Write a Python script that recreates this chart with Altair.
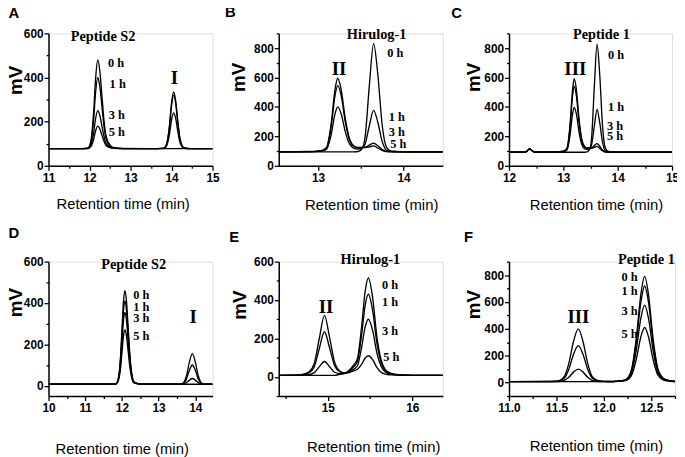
import altair as alt
import pandas as pd

HOURS = ["0 h", "1 h", "3 h", "5 h"]

# ---------------- Panel A ----------------
A_x = [11.0, 11.8, 11.95, 12.0, 12.05, 12.1, 12.15, 12.2, 12.25, 12.3, 12.35, 12.4, 12.5, 12.6, 12.8,
       13.5, 13.8, 13.85, 13.9, 13.95, 14.0, 14.05, 14.1, 14.15, 14.2, 14.25, 14.3, 14.4, 14.6, 15.0]
A_0h = [78, 78, 80, 90, 134, 243, 400, 480, 432, 323, 211, 138, 94, 82, 79, 78, 78, 78, 78, 78, 78, 78, 78, 78, 78, 78, 78, 78, 78, 78]
A_1h = [78, 78, 79, 88, 123, 210, 336, 400, 361, 274, 184, 126, 91, 81, 78, 78, 79, 83, 101, 144, 208, 240, 216, 159, 110, 88, 80, 78, 78, 78]
A_3h = [78, 78, 79, 83, 102, 149, 216, 250, 229, 183, 135, 104, 85, 80, 78, 78, 79, 85, 112, 177, 272, 320, 284, 199, 126, 93, 82, 78, 78, 78]
A_5h = [78, 78, 78, 81, 92, 120, 160, 180, 168, 140, 112, 93, 82, 79, 78, 78, 79, 86, 114, 183, 284, 335, 296, 207, 129, 93, 82, 79, 78, 78]

# ---------------- Panel B ----------------
B_x = [12.54, 12.9, 13.0, 13.05, 13.1, 13.15, 13.2, 13.23, 13.27, 13.32, 13.37, 13.42, 13.47, 13.52, 13.55,
       13.6, 13.65, 13.7, 13.75, 13.8, 13.85, 13.9, 14.0, 14.46]
B_0h = [95, 95, 95, 95, 95, 95, 95, 95, 95, 95, 95, 95, 97, 120, 194, 543, 830, 617, 279, 127, 102, 99, 95, 95]
B_1h = [95, 96, 98, 101, 113, 202, 357, 400, 354, 229, 147, 119, 114, 122, 147, 272, 377, 294, 166, 107, 98, 96, 95, 95]
B_3h = [95, 96, 100, 104, 122, 253, 482, 545, 478, 293, 172, 131, 122, 124, 125, 140, 154, 136, 110, 98, 96, 95, 95, 95]
B_5h = [95, 97, 100, 105, 125, 270, 525, 595, 520, 315, 180, 135, 125, 126, 124, 128, 135, 121, 105, 96, 95, 95, 95, 95]

# ---------------- Panel C ----------------
C_x = [12.0, 12.3, 12.34, 12.38, 12.42, 12.46, 12.87, 12.97, 13.02, 13.07, 13.12, 13.17, 13.2, 13.24, 13.29,
       13.34, 13.39, 13.44, 13.49, 13.52, 13.57, 13.62, 13.67, 13.72, 13.77, 13.82, 13.87, 13.97, 15.0]
C_0h = [92, 93, 103, 115, 104, 94, 92, 92, 92, 92, 92, 92, 92, 92, 92, 92, 92, 94, 117, 191, 540, 827, 614, 276, 124, 99, 96, 92, 92]
C_1h = [92, 93, 103, 115, 104, 94, 93, 95, 98, 110, 199, 354, 397, 351, 226, 144, 116, 111, 119, 144, 269, 383, 291, 163, 104, 95, 93, 92, 92]
C_3h = [92, 93, 103, 115, 104, 94, 93, 97, 101, 119, 250, 479, 542, 475, 290, 169, 128, 119, 121, 122, 137, 151, 133, 107, 95, 93, 92, 92, 92]
C_5h = [92, 93, 103, 115, 104, 94, 94, 97, 102, 122, 267, 522, 592, 517, 312, 177, 132, 122, 123, 121, 125, 132, 118, 102, 93, 92, 92, 92, 92]

# ---------------- Panel D ----------------
D_x = [10.0, 11.7, 11.8, 11.85, 11.9, 11.95, 12.0, 12.04, 12.08, 12.12, 12.17, 12.22, 12.27, 12.32, 12.4, 12.5, 12.7,
       13.5, 13.6, 13.68, 13.76, 13.84, 13.92, 14.0, 14.08, 14.16, 14.24, 14.35, 14.47]
D_0h = [7, 7, 7, 11, 32, 107, 265, 401, 460, 419, 283, 143, 57, 21, 12, 8, 7, 7, 7, 7, 7, 7, 7, 7, 7, 7, 7, 7, 7]
D_1h = [7, 7, 7, 11, 30, 96, 237, 358, 410, 374, 253, 128, 51, 19, 11, 8, 7, 7, 7, 9, 15, 27, 35, 27, 15, 9, 7, 7, 7]
D_3h = [7, 7, 7, 10, 27, 84, 205, 310, 355, 324, 219, 111, 45, 17, 11, 8, 7, 7, 8, 12, 33, 75, 100, 75, 33, 12, 8, 7, 7]
D_5h = [7, 7, 7, 9, 22, 65, 157, 236, 270, 246, 167, 86, 36, 15, 10, 8, 7, 7, 8, 15, 48, 115, 155, 115, 48, 15, 8, 7, 7]

# ---------------- Panel E ----------------
E_x = [14.42, 14.6, 14.7, 14.78, 14.84, 14.9, 14.96, 15.02, 15.08, 15.14, 15.2, 15.25, 15.3, 15.35, 15.4, 15.44,
       15.48, 15.53, 15.58, 15.63, 15.68, 15.75, 15.85, 16.0, 16.36]
E_0h = [8, 8, 8, 8, 8, 8, 8, 8, 8, 13, 18, 33, 59, 94, 262, 439, 515, 414, 211, 89, 38, 18, 11, 8, 8]
E_1h = [8, 8, 9, 12, 22, 53, 80, 54, 24, 17, 18, 30, 50, 80, 219, 367, 430, 346, 177, 76, 33, 16, 10, 8, 8]
E_3h = [8, 9, 11, 22, 53, 149, 235, 153, 58, 27, 20, 25, 38, 58, 154, 256, 300, 242, 125, 55, 26, 14, 10, 8, 8]
E_5h = [8, 9, 13, 27, 70, 201, 320, 208, 77, 31, 20, 22, 30, 40, 65, 97, 110, 90, 49, 24, 14, 10, 8, 8, 8]

# ---------------- Panel F ----------------
F_x = [11.0, 11.45, 11.52, 11.58, 11.63, 11.68, 11.73, 11.78, 11.83, 11.88, 11.95, 12.05, 12.15, 12.23, 12.29,
       12.34, 12.39, 12.43, 12.47, 12.52, 12.57, 12.63, 12.7, 12.75]
F_0h = [7, 7, 7, 7, 7, 7, 7, 7, 7, 7, 7, 7, 11, 23, 93, 320, 657, 790, 657, 320, 101, 30, 13, 9]
F_1h = [7, 7, 8, 15, 39, 78, 100, 78, 39, 15, 8, 7, 11, 21, 85, 292, 598, 719, 598, 292, 92, 28, 13, 8]
F_3h = [7, 8, 11, 31, 98, 211, 275, 211, 98, 31, 11, 8, 10, 18, 70, 235, 480, 577, 480, 235, 75, 24, 12, 8]
F_5h = [7, 9, 13, 42, 141, 306, 400, 306, 141, 42, 13, 8, 9, 15, 51, 168, 341, 410, 341, 168, 55, 19, 10, 8]

# Tick values
A_xt = [11, 11.5, 12, 12.5, 13, 13.5, 14, 14.5, 15]
B_xt = [13, 13.5, 14]
C_xt = [12, 12.5, 13, 13.5, 14, 14.5, 15]
D_xt = [10, 10.5, 11, 11.5, 12, 12.5, 13, 13.5, 14]
E_xt = [14.5, 15, 15.5, 16]
F_xt = [11, 11.25, 11.5, 11.75, 12, 12.25, 12.5, 12.75]

# Annotation texts (label, x, y) in data units
A_name = [("Peptide S2", 12.33, 582)]
A_hours = [("0 h", 12.45, 466), ("1 h", 12.49, 372), ("3 h", 12.47, 228), ("5 h", 12.47, 154)]
A_roman = [("I", 14.07, 396)]
B_name = [("Hirulog-1", 13.685, 887)]
B_hours = [("0 h", 13.81, 766), ("1 h", 13.827, 330), ("3 h", 13.827, 228), ("5 h", 13.846, 148)]
B_roman = [("II", 13.245, 658)]
C_name = [("Peptide 1", 13.70, 890)]
C_hours = [("0 h", 13.82, 756), ("1 h", 13.82, 397), ("3 h", 13.805, 272), ("5 h", 13.805, 205)]
C_roman = [("III", 13.22, 660)]
D_name = [("Peptide S2", 12.32, 583)]
D_hours = [("0 h", 12.31, 440), ("1 h", 12.31, 380), ("3 h", 12.31, 325), ("5 h", 12.31, 241)]
D_roman = [("I", 13.94, 332)]
E_name = [("Hirulog-1", 15.503, 608)]
E_hours = [("0 h", 15.64, 479), ("1 h", 15.64, 389), ("3 h", 15.64, 241), ("5 h", 15.655, 102)]
E_roman = [("II", 14.978, 364)]
F_name = [("Peptide 1", 12.448, 911)]
F_hours = [("0 h", 12.357, 782), ("1 h", 12.357, 679), ("3 h", 12.357, 532), ("5 h", 12.357, 360)]
F_roman = [("III", 11.732, 488)]

SANS = "Liberation Sans"
SERIF = "Liberation Serif"


def long_df(xs, ys_list):
    rows = []
    for name, ys in zip(HOURS, ys_list):
        for x, y in zip(xs, ys):
            rows.append({"x": x, "y": y, "s": name})
    return pd.DataFrame(rows)


def ann_df(items):
    return pd.DataFrame([{"t": t, "x": x, "y": y} for t, x, y in items])


def panel(letter, letter_pos, xs, ys_list, xdom, ydom, w, h, xvals, xmod, xfmt, yvals,
          ytx, yty, xtx, xty, names, hours, hours_align, roman):
    xaxis = alt.Axis(
        values=xvals, tickCount=40, tickMinStep=0.01, format=xfmt, title="Retention time (min)",
        labelExpr=f"abs(datum.value / {xmod} - round(datum.value / {xmod})) < 0.001 ? datum.label : ''",
        tickSize={"condition": {"test": f"abs(datum.value / {xmod} - round(datum.value / {xmod})) > 0.001",
                                "value": 2.5}, "value": 4.5},
        labelFont=SANS, labelFontWeight="bold", labelFontSize=12, labelColor="black", labelPadding=2,
        domainColor="black", domainWidth=1.5, tickColor="black", tickWidth=1.3, grid=False,
        titleFont=SANS, titleFontWeight="normal", titleFontSize=15, titleColor="black",
        titleX=xtx, titleY=xty, titleAlign="center", titleBaseline="middle",
        labelFlush=False, labelOverlap=False, labelBound=False,
    )
    yaxis = alt.Axis(
        values=yvals, tickCount=40, tickMinStep=1, format=".0f", title="mV",
        labelExpr="datum.value % 200 === 0 ? datum.label : ''",
        tickSize={"condition": {"test": "datum.value % 200 !== 0", "value": 2.5}, "value": 4.5},
        labelFont=SANS, labelFontWeight="bold", labelFontSize=12, labelColor="black", labelPadding=1,
        domainColor="black", domainWidth=1.5, tickColor="black", tickWidth=1.3, grid=False,
        titleFont=SANS, titleFontWeight="bold", titleFontSize=19, titleColor="black",
        titleAngle=270, titleX=ytx, titleY=yty, titleAlign="center", titleBaseline="alphabetic",
        labelFlush=False, labelOverlap=False,
    )
    X = alt.X("x:Q", scale=alt.Scale(domain=xdom, nice=False, zero=False), axis=xaxis)
    Y = alt.Y("y:Q", scale=alt.Scale(domain=ydom, nice=False, zero=False), axis=yaxis)

    lines = alt.Chart(long_df(xs, ys_list)).mark_line(
        color="black", strokeWidth=1.35, interpolate="monotone", clip=True
    ).encode(x=X, y=Y, detail="s:N")

    t_name = alt.Chart(ann_df(names)).mark_text(
        font=SERIF, fontWeight="bold", fontSize=14.5, color="black", align="center", baseline="middle"
    ).encode(x=X, y=Y, text="t:N")
    t_hours = alt.Chart(ann_df(hours)).mark_text(
        font=SERIF, fontWeight="bold", fontSize=12.5, color="black", align=hours_align, baseline="middle"
    ).encode(x=X, y=Y, text="t:N")
    t_roman = alt.Chart(ann_df(roman)).mark_text(
        font=SERIF, fontWeight="bold", fontSize=19, color="black", align="center", baseline="middle"
    ).encode(x=X, y=Y, text="t:N")
    t_letter = alt.Chart(pd.DataFrame({"t": [letter]})).mark_text(
        font=SANS, fontWeight="bold", fontSize=15, color="black", align="center", baseline="middle"
    ).encode(x=alt.value(letter_pos[0]), y=alt.value(letter_pos[1]), text="t:N")

    return alt.layer(lines, t_name, t_hours, t_roman, t_letter).properties(width=w, height=h)


H1 = 134
H2 = 136
y600 = [0, 100, 200, 300, 400, 500, 600]
y900 = [0, 100, 200, 300, 400, 500, 600, 700, 800, 900]

pA = panel("A", (-35, -21), A_x, [A_0h, A_1h, A_3h, A_5h], [11, 15], [0, 600], 166, H1,
           A_xt, 1, ".0f", y600,
           -27, 47, 75, 38, A_name, A_hours, "left", A_roman)
pB = panel("B", (-49, -22), B_x, [B_0h, B_1h, B_3h, B_5h], [12.54, 14.46], [0, 900], 166, H1,
           B_xt, 1, ".0f", y900,
           -35, 44, 93.5, 39, B_name, B_hours, "left", B_roman)
pC = panel("C", (-53, -21), C_x, [C_0h, C_1h, C_3h, C_5h], [12, 15], [0, 900], 165, H1,
           C_xt, 1, ".0f", y900,
           -30, 44, 88, 39, C_name, C_hours, "left", C_roman)
pD = panel("D", (-35, -29), D_x, [D_0h, D_1h, D_3h, D_5h], [10, 14.47], [-50, 600], 166, H2,
           D_xt, 1, ".0f", y600,
           -27, 41, 74, 53, D_name, D_hours, "left", D_roman)
pE = panel("E", (-45, -25), E_x, [E_0h, E_1h, E_3h, E_5h], [14.42, 16.36], [-100, 600], 166, H2,
           E_xt, 1, ".0f", [-100] + y600,
           -34, 43.5, 95.5, 51.5, E_name, E_hours, "left", E_roman)
pF = panel("F", (-41, -24.5), F_x, [F_0h, F_1h, F_3h, F_5h], [11, 12.75], [-100, 900], 168, H2,
           F_xt, 0.5, ".1f", [-100] + y900,
           -30, 43, 88, 50.5, F_name, F_hours, "right", F_roman)

chart = alt.concat(
    pA, pB, pC, pD, pE, pF, columns=3, spacing={"row": 97, "column": 67}, bounds="flush"
).properties(
    autosize=alt.AutoSizeParams(type="none"),
    padding={"left": 41, "top": 23, "right": 636, "bottom": 426},
).configure_view(stroke=None).configure(background="white")

chart.save("out.html", embed_options={"renderer": "svg", "actions": False})
